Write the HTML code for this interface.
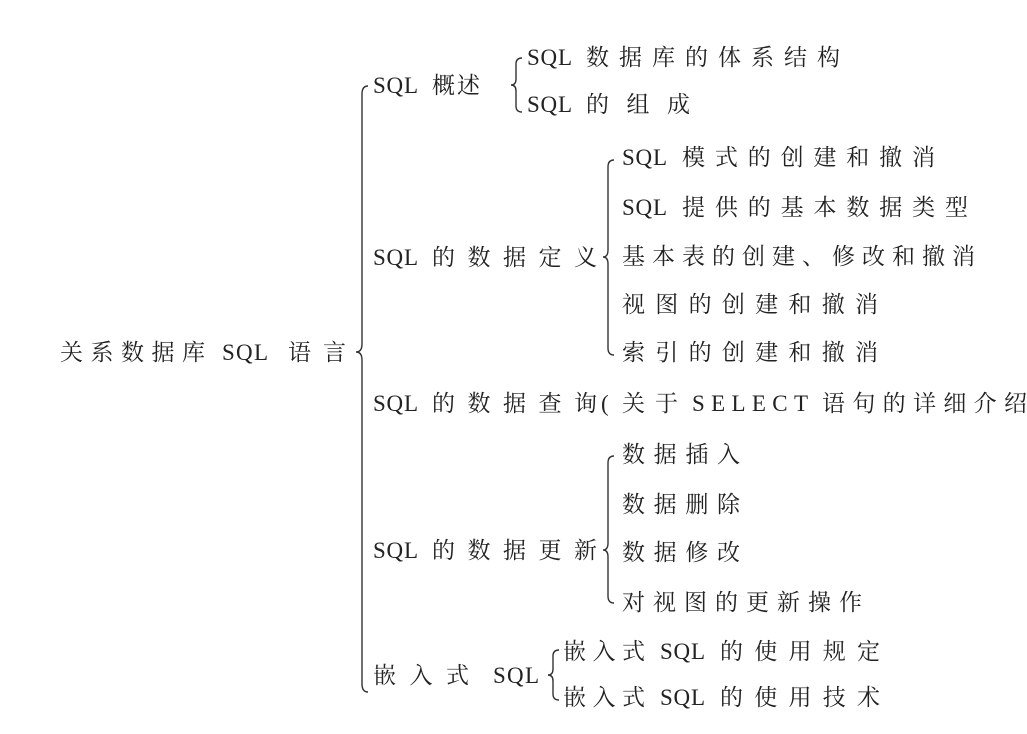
<!DOCTYPE html>
<html><head><meta charset="utf-8"><style>
html,body{margin:0;padding:0;background:#fff;}
svg{display:block;}
text{font-family:"Liberation Serif","Noto Serif CJK SC",serif;font-size:23px;fill:#222;}
path{fill:none;stroke:#333;stroke-width:1.4;}
</style></head><body>
<svg width="1027" height="734" viewBox="0 0 1027 734" xmlns="http://www.w3.org/2000/svg">
<path d="M368,86 Q362,86 362,94 L362,344 Q362,352 356,352 Q362,352 362,360 L362,684 Q362,692 368,692"/>
<path d="M522,58 Q516,58 516,64 L516,79 Q516,85 511,85 Q516,85 516,91 L516,106 Q516,112 522,112"/>
<path d="M614,160 Q608,160 608,167 L608,250 Q608,257 603,257 Q608,257 608,264 L608,348 Q608,355 614,355"/>
<path d="M614,456 Q608,456 608,463 L608,543 Q608,550 603,550 Q608,550 608,557 L608,596 Q608,603 614,603"/>
<path d="M559,650 Q553,650 553,656 L553,669 Q553,675 548,675 Q553,675 553,681 L553,694 Q553,700 559,700"/>

<text x="60" y="360" textLength="145" lengthAdjust="spacing">关系数据库</text>
<text x="222" y="360" textLength="46" lengthAdjust="spacing">SQL</text>
<text x="288" y="360" textLength="58" lengthAdjust="spacing">语言</text>

<text x="373" y="93" textLength="45" lengthAdjust="spacing">SQL</text>
<text x="432" y="93" textLength="48" lengthAdjust="spacing">概述</text>
<text x="527" y="65" textLength="45" lengthAdjust="spacing">SQL</text>
<text x="586" y="65" textLength="254" lengthAdjust="spacing">数据库的体系结构</text>
<text x="527" y="112" textLength="45" lengthAdjust="spacing">SQL</text>
<text x="586" y="112" textLength="104" lengthAdjust="spacing">的组成</text>

<text x="373" y="265" textLength="45" lengthAdjust="spacing">SQL</text>
<text x="432" y="265" textLength="165" lengthAdjust="spacing">的数据定义</text>
<text x="622" y="165" textLength="45" lengthAdjust="spacing">SQL</text>
<text x="682" y="165" textLength="253" lengthAdjust="spacing">模式的创建和撤消</text>
<text x="622" y="215" textLength="45" lengthAdjust="spacing">SQL</text>
<text x="682" y="215" textLength="286" lengthAdjust="spacing">提供的基本数据类型</text>
<text x="622" y="264" textLength="353" lengthAdjust="spacing">基本表的创建、修改和撤消</text>
<text x="622" y="312" textLength="256" lengthAdjust="spacing">视图的创建和撤消</text>
<text x="622" y="360" textLength="256" lengthAdjust="spacing">索引的创建和撤消</text>

<text x="373" y="411" textLength="45" lengthAdjust="spacing">SQL</text>
<text x="432" y="411" textLength="165" lengthAdjust="spacing">的数据查询</text>
<text x="601" y="411">(</text>
<text x="622" y="411" textLength="56" lengthAdjust="spacing">关于</text>
<text x="692" y="411" textLength="116" lengthAdjust="spacing">SELECT</text>
<text x="822" y="411" textLength="205" lengthAdjust="spacing">语句的详细介绍</text>

<text x="373" y="558" textLength="45" lengthAdjust="spacing">SQL</text>
<text x="432" y="558" textLength="165" lengthAdjust="spacing">的数据更新</text>
<text x="622" y="462" textLength="118" lengthAdjust="spacing">数据插入</text>
<text x="622" y="512" textLength="118" lengthAdjust="spacing">数据删除</text>
<text x="622" y="560" textLength="118" lengthAdjust="spacing">数据修改</text>
<text x="622" y="610" textLength="240" lengthAdjust="spacing">对视图的更新操作</text>

<text x="373" y="683" textLength="96" lengthAdjust="spacing">嵌入式</text>
<text x="493" y="683" textLength="46" lengthAdjust="spacing">SQL</text>
<text x="563" y="659" textLength="82" lengthAdjust="spacing">嵌入式</text>
<text x="660" y="659" textLength="45" lengthAdjust="spacing">SQL</text>
<text x="720" y="659" textLength="160" lengthAdjust="spacing">的使用规定</text>
<text x="563" y="705" textLength="82" lengthAdjust="spacing">嵌入式</text>
<text x="660" y="705" textLength="45" lengthAdjust="spacing">SQL</text>
<text x="720" y="705" textLength="160" lengthAdjust="spacing">的使用技术</text>
</svg>
</body></html>
